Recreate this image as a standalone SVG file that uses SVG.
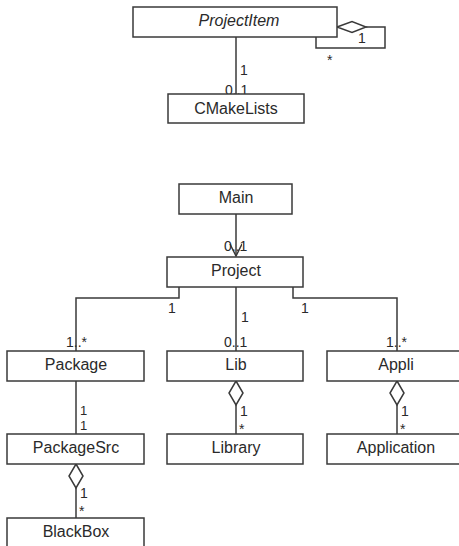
<svg xmlns="http://www.w3.org/2000/svg" width="459" height="546" viewBox="0 0 459 546">
<defs>
<style>
.box{fill:#fff;stroke:#3a3a3a;stroke-width:1.5}
.name{font-family:"Liberation Sans",Arial,sans-serif;font-size:16px;fill:#2a2a2a;text-anchor:middle}
.it{font-style:italic}
.ln{fill:none;stroke:#3a3a3a;stroke-width:1.5}
.dia{fill:#fff;stroke:#3a3a3a;stroke-width:1.5}
.lbl{font-family:"Liberation Sans",Arial,sans-serif;font-size:14px;fill:#2a2a2a}
.sm{font-size:13px}
</style>
<marker id="open" markerWidth="16" markerHeight="16" refX="14" refY="6" orient="auto" markerUnits="userSpaceOnUse">
<path d="M2,0 L14,6 L2,12" fill="none" stroke="#3a3a3a" stroke-width="1.5"/>
</marker>
</defs>
<rect width="459" height="546" fill="#fff"/>
<g id="connectors">
<path class="ln" d="M236,37 V94"/>
<path class="ln" d="M366,27 H385 V48 H316 V37"/>
<polygon class="dia" points="337,27 352,21.5 366,27 352,32.5"/>
<path class="ln" d="M236,214 V256" marker-end="url(#open)"/>
<path class="ln" d="M179,287 V298 H76 V351"/>
<path class="ln" d="M236,287 V351"/>
<path class="ln" d="M293,287 V298 H397 V351"/>
<path class="ln" d="M76,381 V434"/>
<path class="ln" d="M236,405 V434"/>
<polygon class="dia" points="236,381 243,393 236,405 229,393"/>
<path class="ln" d="M397,405 V434"/>
<polygon class="dia" points="397,381 404,393 397,405 390,393"/>
<path class="ln" d="M76,488 V518"/>
<polygon class="dia" points="76,464 83,476 76,488 69,476"/>
<text class="lbl" x="240" y="75">1</text>
<text class="lbl" x="225" y="95">0..1</text>
<text class="lbl" x="358" y="43">1</text>
<text class="lbl" x="327" y="65">*</text>
<text class="lbl" x="224" y="251">0..1</text>
<text class="lbl" x="168" y="313">1</text>
<text class="lbl" x="66" y="347">1..*</text>
<text class="lbl" x="241" y="322">1</text>
<text class="lbl" x="224" y="347">0..1</text>
<text class="lbl" x="301" y="313">1</text>
<text class="lbl" x="386" y="347">1..*</text>
<text class="lbl sm" x="80" y="415">1</text>
<text class="lbl sm" x="80" y="430">1</text>
<text class="lbl" x="240" y="416">1</text>
<text class="lbl" x="239" y="434">*</text>
<text class="lbl" x="401" y="416">1</text>
<text class="lbl" x="400" y="434">*</text>
<text class="lbl" x="80" y="498">1</text>
<text class="lbl" x="79" y="516">*</text>
</g>
<g id="ProjectItem"><rect class="box" x="133" y="7" width="204" height="30"/><text class="name it" x="239" y="26">ProjectItem</text></g>
<g id="CMakeLists"><rect class="box" x="168" y="94" width="136" height="29"/><text class="name" x="236" y="114">CMakeLists</text></g>
<g id="Main"><rect class="box" x="179" y="184" width="113" height="30"/><text class="name" x="236" y="203">Main</text></g>
<g id="Project"><rect class="box" x="167" y="257" width="136" height="30"/><text class="name" x="236" y="276">Project</text></g>
<g id="Package"><rect class="box" x="7" y="351" width="137" height="30"/><text class="name" x="76" y="370">Package</text></g>
<g id="Lib"><rect class="box" x="167" y="351" width="136" height="30"/><text class="name" x="236" y="370">Lib</text></g>
<g id="Appli"><rect class="box" x="327" y="351" width="140" height="30"/><text class="name" x="396" y="370">Appli</text></g>
<g id="PackageSrc"><rect class="box" x="7" y="434" width="137" height="30"/><text class="name" x="76" y="453">PackageSrc</text></g>
<g id="Library"><rect class="box" x="167" y="434" width="136" height="30"/><text class="name" x="236" y="453">Library</text></g>
<g id="Application"><rect class="box" x="327" y="434" width="140" height="30"/><text class="name" x="396" y="453">Application</text></g>
<g id="BlackBox"><rect class="box" x="7" y="518" width="137" height="30"/><text class="name" x="76" y="537">BlackBox</text></g>
</svg>
